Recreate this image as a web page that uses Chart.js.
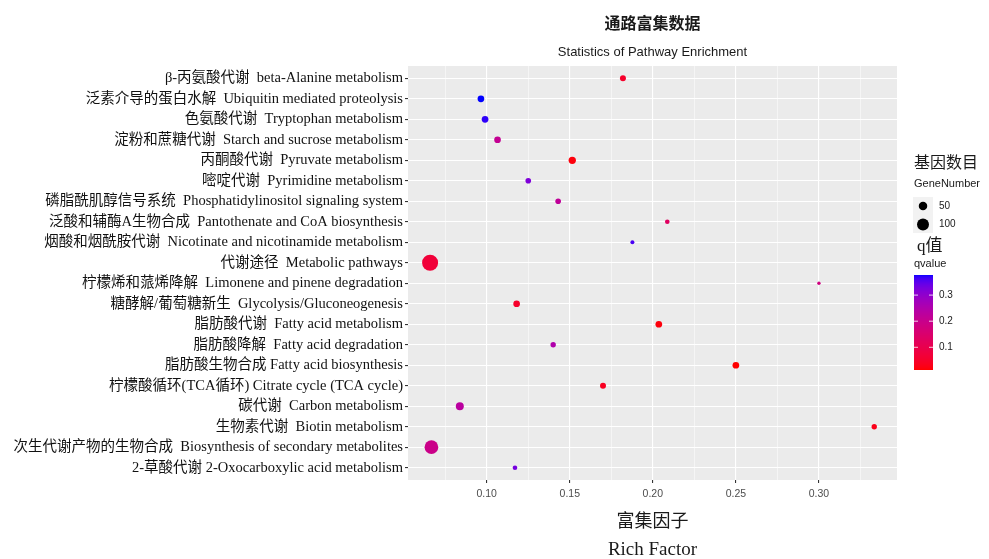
<!DOCTYPE html>
<html>
<head>
<meta charset="utf-8">
<script src="https://cdn.jsdelivr.net/npm/chart.js@4.4.1/dist/chart.umd.min.js"></script>
<style>
  html, body { margin: 0; background: #fff; }
  #wrap { width: 989px; height: 559px; }
</style>
</head>
<body>
<div id="wrap"><canvas id="chart"></canvas></div>
<script>
const pathways = [
  'β-丙氨酸代谢  beta-Alanine metabolism',
  '泛素介导的蛋白水解  Ubiquitin mediated proteolysis',
  '色氨酸代谢  Tryptophan metabolism',
  '淀粉和蔗糖代谢  Starch and sucrose metabolism',
  '丙酮酸代谢  Pyruvate metabolism',
  '嘧啶代谢  Pyrimidine metabolism',
  '磷脂酰肌醇信号系统  Phosphatidylinositol signaling system',
  '泛酸和辅酶A生物合成  Pantothenate and CoA biosynthesis',
  '烟酸和烟酰胺代谢  Nicotinate and nicotinamide metabolism',
  '代谢途径  Metabolic pathways',
  '柠檬烯和蒎烯降解  Limonene and pinene degradation',
  '糖酵解/葡萄糖新生  Glycolysis/Gluconeogenesis',
  '脂肪酸代谢  Fatty acid metabolism',
  '脂肪酸降解  Fatty acid degradation',
  '脂肪酸生物合成 Fatty acid biosynthesis',
  '柠檬酸循环(TCA循环) Citrate cycle (TCA cycle)',
  '碳代谢  Carbon metabolism',
  '生物素代谢  Biotin metabolism',
  '次生代谢产物的生物合成  Biosynthesis of secondary metabolites',
  '2-草酸代谢 2-Oxocarboxylic acid metabolism'
];
const richFactor = [0.182, 0.0965, 0.099, 0.1065, 0.1515, 0.125, 0.143, 0.2087, 0.1877, 0.0659,
                    0.300, 0.118, 0.2036, 0.140, 0.250, 0.170, 0.0838, 0.3333, 0.0667, 0.117];
const geneNumber = [25, 31, 31, 31, 37, 22, 22, 15, 11, 178, 8, 31, 31, 20, 31, 25, 44, 20, 130, 15];
const qValue = [0.05, 0.377, 0.37, 0.21, 0.02, 0.32, 0.22, 0.13, 0.36, 0.07,
                0.18, 0.05, 0.02, 0.25, 0.013, 0.04, 0.23, 0.03, 0.195, 0.33];
const xMajor = [0.10, 0.15, 0.20, 0.25, 0.30];
const xMinor = [0.075, 0.125, 0.175, 0.225, 0.275, 0.325];
const sizeBreaks = [50, 100];
const qBreaks = [0.1, 0.2, 0.3];

const serif = '"Liberation Serif", "Noto Sans CJK SC", serif';
const sans = '"Liberation Sans", Arial, sans-serif';
const cjk = '"Noto Sans CJK SC", "Liberation Serif", serif';

// point radius from gene count
const radius = n => 0.6 * Math.sqrt(n);

// red -> blue gradient in Lab space (like ggplot)
function toLab(rgb) {
  const lin = rgb.map(c => { c /= 255; return c <= 0.04045 ? c / 12.92 : Math.pow((c + 0.055) / 1.055, 2.4); });
  const X = (0.4124 * lin[0] + 0.3576 * lin[1] + 0.1805 * lin[2]) / 0.95047;
  const Y = 0.2126 * lin[0] + 0.7152 * lin[1] + 0.0722 * lin[2];
  const Z = (0.0193 * lin[0] + 0.1192 * lin[1] + 0.9505 * lin[2]) / 1.08883;
  const f = t => t > 0.008856 ? Math.cbrt(t) : 7.787 * t + 16 / 116;
  return [116 * f(Y) - 16, 500 * (f(X) - f(Y)), 200 * (f(Y) - f(Z))];
}
function fromLab(L, a, b) {
  const fy = (L + 16) / 116, fx = fy + a / 500, fz = fy - b / 200;
  const inv = t => t * t * t > 0.008856 ? t * t * t : (t - 16 / 116) / 7.787;
  const X = inv(fx) * 0.95047, Y = inv(fy), Z = inv(fz) * 1.08883;
  const lin = [3.2406 * X - 1.5372 * Y - 0.4986 * Z,
               -0.9689 * X + 1.8758 * Y + 0.0415 * Z,
               0.0557 * X - 0.2040 * Y + 1.0570 * Z];
  return lin.map(c => {
    c = c <= 0.0031308 ? 12.92 * c : 1.055 * Math.pow(c, 1 / 2.4) - 0.055;
    return Math.round(Math.min(1, Math.max(0, c)) * 255);
  });
}
const labLow = toLab([255, 0, 0]), labHigh = toLab([0, 0, 255]);
const qMin = Math.min(...qValue), qMax = Math.max(...qValue);
function qColor(q) {
  const t = Math.min(1, Math.max(0, (q - qMin) / (qMax - qMin)));
  const c = fromLab(...labLow.map((v, k) => v + (labHigh[k] - v) * t));
  return `rgb(${c[0]},${c[1]},${c[2]})`;
}

const decor = {
  id: 'decor',
  beforeDraw(chart) {
    const { ctx, chartArea: a } = chart;
    ctx.save();
    ctx.fillStyle = '#EBEBEB';
    ctx.fillRect(a.left, a.top, a.right - a.left, a.bottom - a.top);
    ctx.restore();
  },
  afterDraw(chart) {
    const { ctx, chartArea: a } = chart;
    const cx = (a.left + a.right) / 2;
    ctx.save();
    ctx.textAlign = 'center';
    ctx.textBaseline = 'middle';
    ctx.fillStyle = '#1a1a1a';
    ctx.font = 'bold 16px ' + cjk;
    ctx.fillText('通路富集数据', cx, 23);
    ctx.font = '13px ' + sans;
    ctx.fillText('Statistics of Pathway Enrichment', cx, 52);
    ctx.font = '18px ' + cjk;
    ctx.fillText('富集因子', cx, 520);
    ctx.font = '19px ' + serif;
    ctx.fillText('Rich Factor', cx, 550);

    // size legend
    ctx.textAlign = 'left';
    ctx.font = '16px ' + cjk;
    ctx.fillText('基因数目', 914, 162);
    ctx.font = '11px ' + sans;
    ctx.fillText('GeneNumber', 914, 184);
    ctx.fillStyle = '#F2F2F2';
    ctx.fillRect(913, 197, 20, 36);
    sizeBreaks.forEach((n, i) => {
      const y = 206 + i * 18.5;
      ctx.fillStyle = '#000';
      ctx.beginPath();
      ctx.arc(923, y, radius(n), 0, Math.PI * 2);
      ctx.fill();
      ctx.fillStyle = '#1a1a1a';
      ctx.font = '10px ' + sans;
      ctx.fillText(String(n), 939, y);
    });

    // q value colour bar
    ctx.font = '17px ' + serif;
    ctx.fillText('q值', 917, 247);
    ctx.font = '11px ' + sans;
    ctx.fillText('qvalue', 914, 264);
    const barTop = 275, barBot = 370, barL = 914, barW = 19;
    const qAt = y => qMax - (y - barTop) / (barBot - barTop) * (qMax - qMin);
    for (let y = barTop; y < barBot; y++) {
      ctx.fillStyle = qColor(qAt(y + 0.5));
      ctx.fillRect(barL, y, barW, 1);
    }
    qBreaks.forEach(q => {
      const y = barTop + (qMax - q) / (qMax - qMin) * (barBot - barTop);
      ctx.strokeStyle = 'rgba(255,255,255,0.8)';
      ctx.lineWidth = 1;
      ctx.beginPath();
      ctx.moveTo(barL, y); ctx.lineTo(barL + 4, y);
      ctx.moveTo(barL + barW - 4, y); ctx.lineTo(barL + barW, y);
      ctx.stroke();
      ctx.fillStyle = '#1a1a1a';
      ctx.font = '10px ' + sans;
      ctx.fillText(q.toFixed(1), 939, y);
    });
    ctx.restore();
  }
};

new Chart(document.getElementById('chart'), {
  type: 'bubble',
  data: {
    datasets: [{
      data: pathways.map((p, i) => ({ x: richFactor[i], y: i + 1, r: radius(geneNumber[i]) })),
      backgroundColor: qValue.map(qColor),
      borderWidth: 0,
      hoverRadius: 0
    }]
  },
  options: {
    responsive: true,
    maintainAspectRatio: false,
    animation: false,
    layout: { padding: { top: 66, right: 92, left: 0, bottom: 0 } },
    plugins: { legend: { display: false }, tooltip: { enabled: false } },
    scales: {
      x: {
        type: 'linear',
        min: 0.0526,
        max: 0.347,
        afterBuildTicks: s => {
          s.ticks = xMinor.map(v => ({ value: v, major: false }))
            .concat(xMajor.map(v => ({ value: v, major: true })))
            .sort((p, q) => p.value - q.value);
        },
        afterFit: s => { s.height = 79; },
        ticks: {
          autoSkip: false,
          maxRotation: 0,
          padding: 5,
          color: '#4D4D4D',
          font: { family: sans, size: 10.5 },
          callback: (v, i, ticks) => ticks[i].major ? v.toFixed(2) : ''
        },
        grid: {
          color: '#fff',
          lineWidth: c => (c.tick && c.tick.major) ? 1.1 : 0.5,
          tickColor: c => (c.tick && c.tick.major) ? '#333' : 'rgba(0,0,0,0)',
          tickLength: 3
        },
        border: { display: false }
      },
      y: {
        type: 'linear',
        reverse: true,
        min: 0.4,
        max: 20.6,
        afterBuildTicks: s => { s.ticks = pathways.map((p, i) => ({ value: i + 1 })); },
        afterFit: s => { s.width = 408; },
        ticks: {
          autoSkip: false,
          padding: 2,
          color: '#111',
          font: { family: serif, size: 14.5 },
          callback: (v, i) => pathways[i]
        },
        grid: { color: '#fff', lineWidth: 1.1, tickColor: '#333', tickLength: 3 },
        border: { display: false }
      }
    }
  },
  plugins: [decor]
});
</script>
</body>
</html>
